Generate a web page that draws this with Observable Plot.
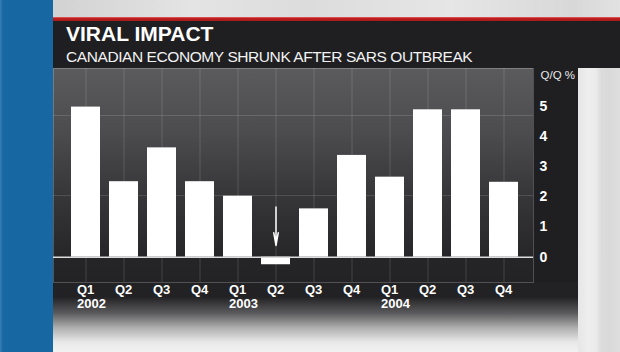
<!DOCTYPE html>
<html>
<head>
<meta charset="utf-8">
<script src="https://cdn.jsdelivr.net/npm/d3@7"></script>
<script src="https://cdn.jsdelivr.net/npm/@observablehq/plot@0.6"></script>
<style>
  html, body { margin: 0; padding: 0; background: #e8e8e8; }
  #stage { position: relative; width: 620px; height: 352px; overflow: hidden; background: #e6e6e6; font-family: "Liberation Sans", Arial, Helvetica, sans-serif; }
  .abs { position: absolute; }
  #topstrip { left: 53px; top: 0; width: 567px; height: 17px; background: linear-gradient(90deg, #d2d2d2 0%, #e4e4e4 25%, #dcdcdc 45%, #e6e6e6 70%, #d8d8d8 92%, #e2e2e2 100%); }
  #red { left: 53px; top: 17px; width: 567px; height: 4px; background: linear-gradient(180deg, #e06a6a 0%, #c0201f 35%, #a51a19 100%); }
  #header { left: 53px; top: 21px; width: 567px; height: 47px; background: #1f1f22; }
  #blue { left: 0; top: 0; width: 53px; height: 352px; background: linear-gradient(90deg, #3a7fb4 0px, #1767a3 3px, #1767a3 100%); }
  #plotbg { left: 53px; top: 68px; width: 480px; height: 214px; background: linear-gradient(180deg, #5b5b5d 0%, #4c4c4e 30%, #363638 60%, #28282a 85%, #252527 89%, #232325 100%); }
  #rightcol { left: 533px; top: 68px; width: 45px; height: 214px; background: #1f1f22; }
  #bottom { left: 53px; top: 282px; width: 525px; height: 70px; background: linear-gradient(180deg, #222224 0px, #222224 15px, #5a5a5c 31px, #b0b0b0 46px, #e8e8e8 60px, #f2f2f2 70px); }
  #rightgray { left: 578px; top: 68px; width: 42px; height: 284px; background: linear-gradient(90deg, #e6e6e6 0px, #eeeeee 10px, #ebebeb 18px, #dcdcdc 23px, #d9d9d9 30px, #dedede 42px); }
  #title { left: 66px; top: 23px; font-size: 21px; line-height: 21px; font-weight: bold; color: #ffffff; white-space: nowrap; }
  #subtitle { left: 66px; top: 48.6px; font-size: 15.5px; line-height: 15.5px; letter-spacing: -0.42px; color: #f2f2f2; white-space: nowrap; }
  #chart { left: 0; top: 68px; width: 620px; height: 284px; }
</style>
</head>
<body>
<div id="stage">
  <div id="topstrip" class="abs"></div>
  <div id="red" class="abs"></div>
  <div id="header" class="abs"></div>
  <div id="blue" class="abs"></div>
  <div id="plotbg" class="abs"></div>
  <div id="rightcol" class="abs"></div>
  <div id="bottom" class="abs"></div>
  <div id="rightgray" class="abs"></div>
  <div id="title" class="abs">VIRAL IMPACT</div>
  <div id="subtitle" class="abs">CANADIAN ECONOMY SHRUNK AFTER SARS OUTBREAK</div>
  <div id="chart" class="abs"></div>
</div>
<script>
// Categories (quarter, year)
const periods = [
  "2002 Q1", "2002 Q2", "2002 Q3", "2002 Q4",
  "2003 Q1", "2003 Q2", "2003 Q3", "2003 Q4",
  "2004 Q1", "2004 Q2", "2004 Q3", "2004 Q4"
];
const quarterLabels = ["Q1", "Q2", "Q3", "Q4", "Q1", "Q2", "Q3", "Q4", "Q1", "Q2", "Q3", "Q4"];
const yearLabels = ["2002", "", "", "", "2003", "", "", "", "2004", "", "", ""];
// Q/Q % growth
const growth = [4.97, 2.50, 3.62, 2.50, 2.02, -0.25, 1.60, 3.37, 2.65, 4.88, 4.88, 2.48];
// Y tick labels
const yTicks = [0, 1, 2, 3, 4, 5];
// Decorative background grid levels
const bgGrid = [2.04, 4.69];
// SARS arrow
const arrowPeriod = "2003 Q2";
const arrowFrom = 1.66;
const arrowTo = 0.39;

const data = periods.map((p, i) => ({period: p, value: growth[i]}));
const quarterOf = new Map(periods.map((p, i) => [p, quarterLabels[i]]));
const yearOf = new Map(periods.map((p, i) => [p, yearLabels[i]]));
const gridColor = "rgba(255,255,255,0.14)";
const labelFont = {fontSize: 13, fontWeight: "bold", fill: "#ffffff", textAnchor: "start", dx: -9, tickSize: 0, label: null};

const chart = Plot.plot({
  width: 620,
  height: 284,
  marginTop: 0,
  marginBottom: 70,
  marginLeft: 53,
  marginRight: 87,
  style: {background: "transparent", overflow: "visible", fontFamily: "'Liberation Sans', Arial, Helvetica, sans-serif"},
  x: {domain: periods, paddingInner: 0.232, paddingOuter: 0.366, align: 0.553},
  y: {domain: [-0.838, 6.248]},
  marks: [
    Plot.ruleY(bgGrid, {stroke: gridColor, strokeWidth: 1}),
    Plot.ruleX(periods, {stroke: gridColor, strokeWidth: 1}),
    Plot.frame({stroke: "rgba(255,255,255,0.22)", strokeWidth: 1}),
    Plot.barY(data, {x: "period", y: "value", fill: "#ffffff"}),
    Plot.ruleY([0], {stroke: "#dcdcdc", strokeWidth: 1.5}),
    Plot.arrow([{period: arrowPeriod, from: arrowFrom, to: arrowTo}], {
      x1: "period", x2: "period", y1: "from", y2: "to",
      stroke: "#ffffff", strokeWidth: 1.5, headLength: 16, headAngle: 20
    }),
    Plot.axisX({...labelFont, anchor: "bottom", tickPadding: 2.5, tickFormat: (d) => quarterOf.get(d)}),
    Plot.axisX({...labelFont, anchor: "bottom", tickPadding: 16, tickFormat: (d) => yearOf.get(d)}),
    Plot.axisY(yTicks, {
      anchor: "right",
      tickSize: 0,
      tickPadding: 6,
      textAnchor: "start",
      fontSize: 14,
      fontWeight: "bold",
      fill: "#ffffff",
      label: null
    }),
    Plot.text(["Q/Q %"], {
      frameAnchor: "top-right",
      textAnchor: "start",
      lineAnchor: "middle",
      dx: 7,
      dy: 7,
      fontSize: 11.5,
      fill: "#e8e8e8"
    })
  ]
});
document.getElementById("chart").appendChild(chart);
</script>
</body>
</html>
